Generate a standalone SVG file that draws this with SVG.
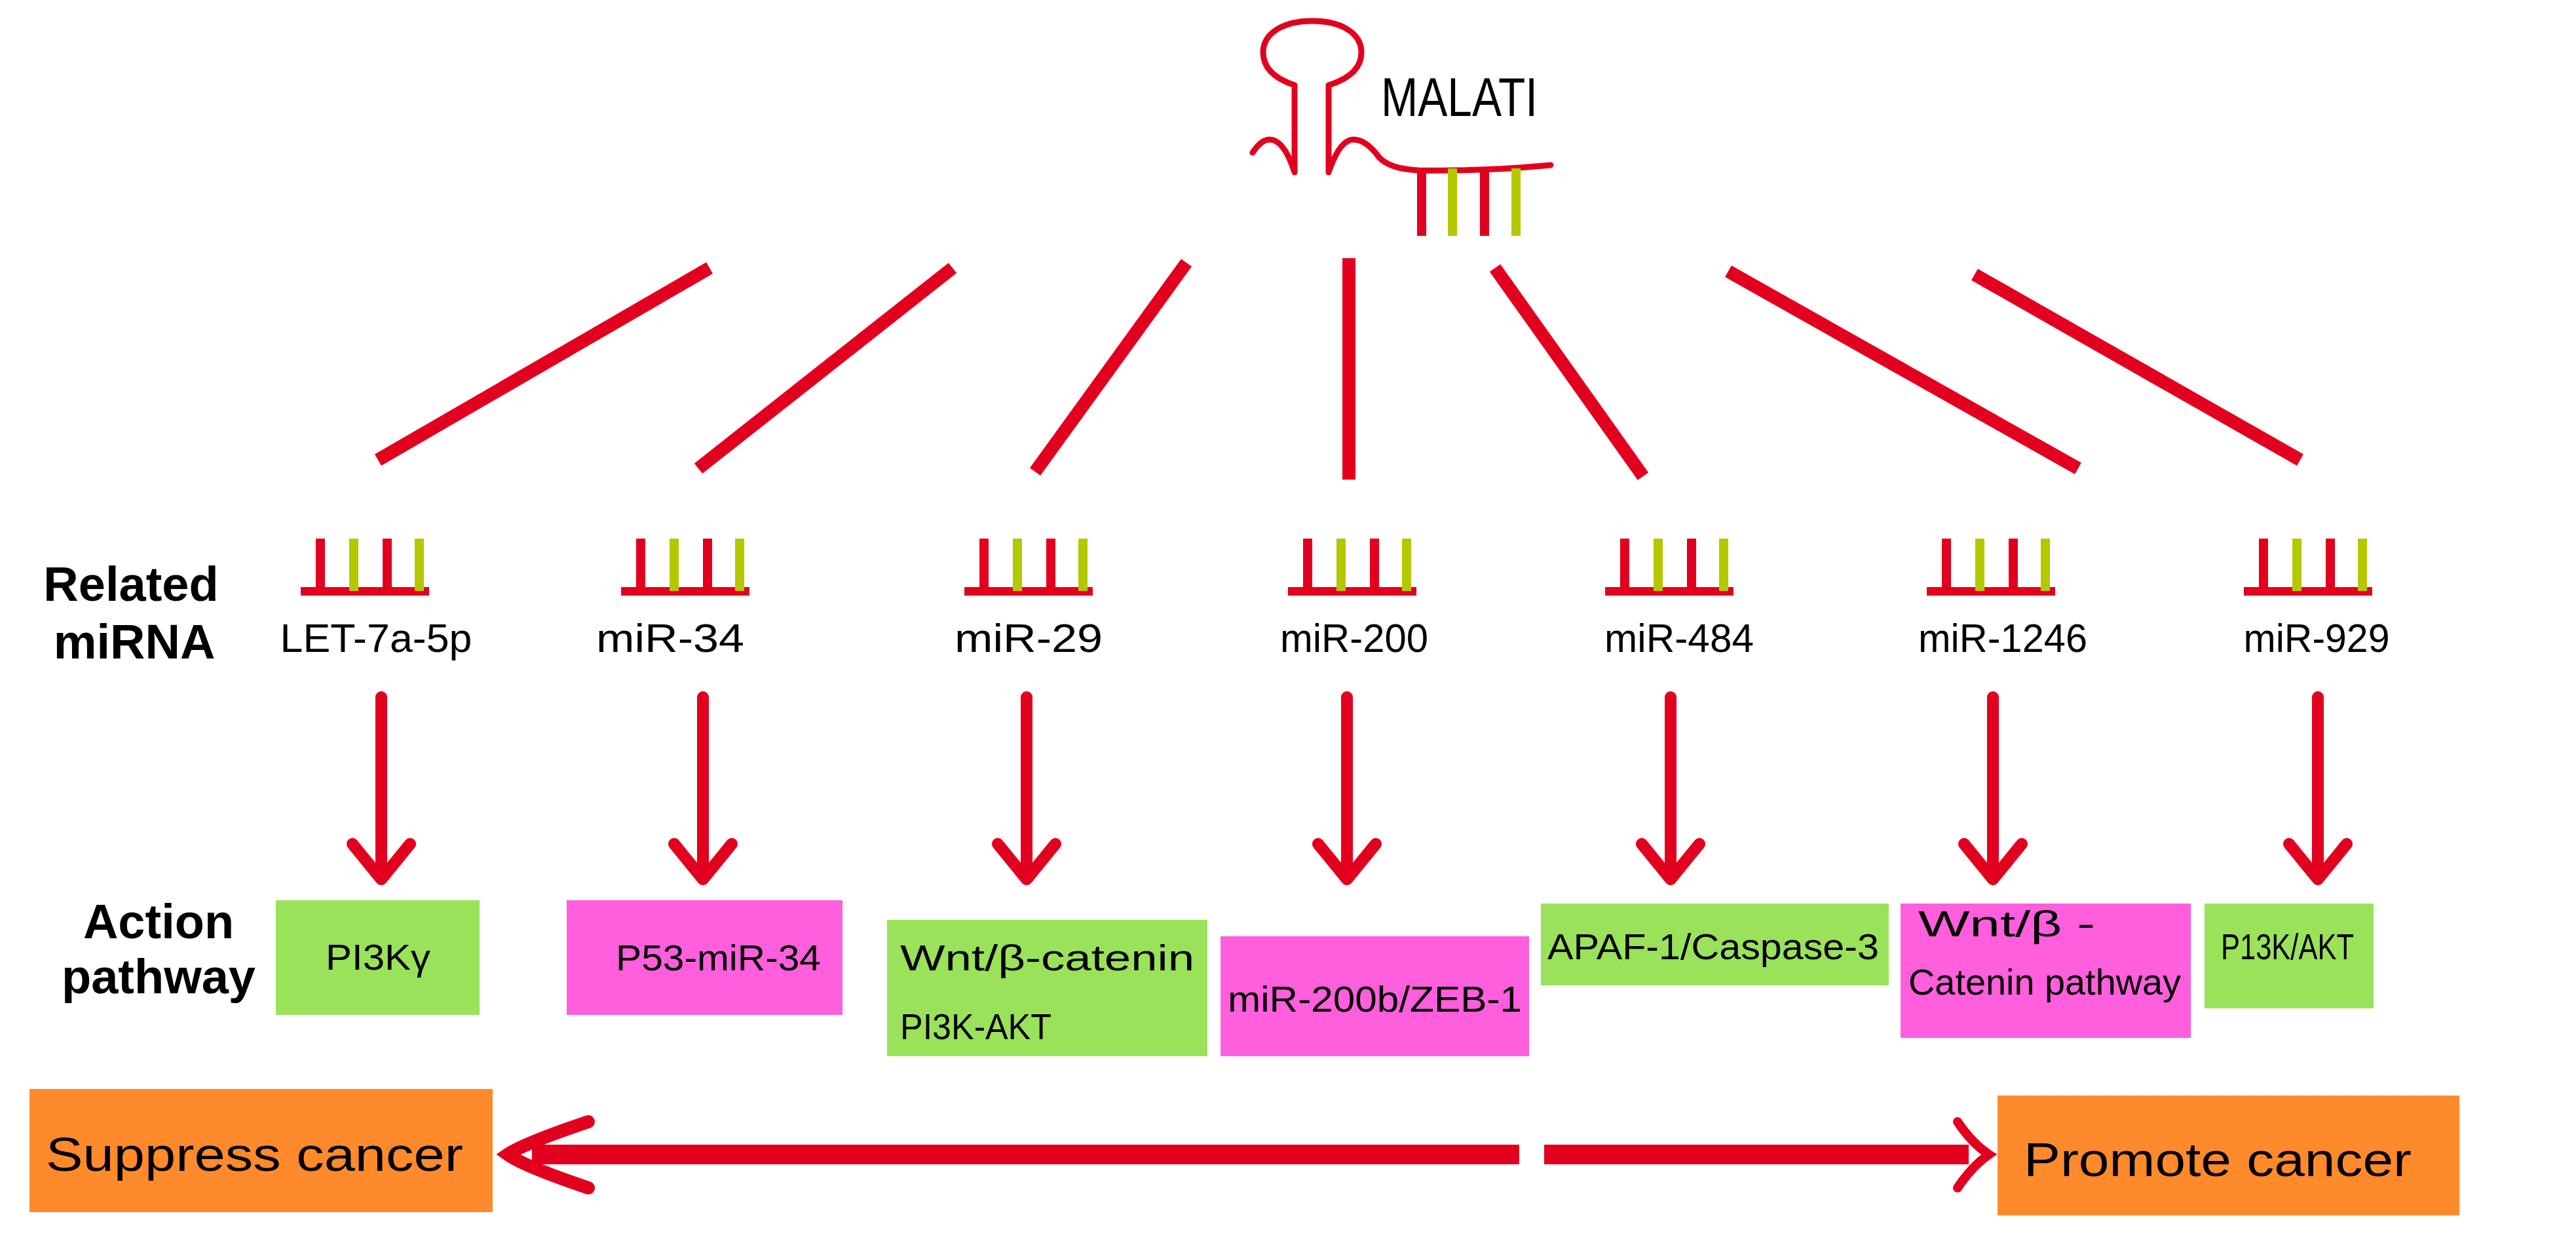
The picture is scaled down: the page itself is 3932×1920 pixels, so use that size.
<svg xmlns="http://www.w3.org/2000/svg" width="3932" height="1920" viewBox="0 0 3932 1920">
<style>
.r{stroke:#E2001E;fill:none}
.t{font-family:"Liberation Sans",Arial,sans-serif;fill:#000}
.lab{font-size:62px}
.bx{font-size:56px}
.hd{font-size:74px;font-weight:bold;text-anchor:middle}
.big{font-size:72px}
</style>
<defs>
<g id="mi">
<rect x="-98" y="896" width="196" height="13" fill="#E2001E"/>
<rect x="-75" y="822" width="14" height="80" fill="#E2001E"/>
<rect x="-24" y="822" width="14" height="80" fill="#B4C800"/>
<rect x="27" y="822" width="14" height="80" fill="#E2001E"/>
<rect x="76" y="822" width="14" height="80" fill="#B4C800"/>
</g>
<g id="ar">
<path d="M0,1064 V1340 M-44,1288 L0,1342 L44,1288" class="r" stroke-width="18" stroke-linecap="round" stroke-linejoin="round"/>
</g>
</defs>
<rect width="3932" height="1920" fill="#fff"/>
<g id="malat1">
<path class="r" stroke-width="9" stroke-linecap="round" stroke-linejoin="round" d="M1912,233 Q1925,213 1938,213 Q1960,213 1976,263 V130 C1940,118 1928,100 1928,80 C1928,50 1960,32 2003,32 C2046,32 2078,50 2078,80 C2078,100 2066,118 2028,130 V263 Q2045,213 2066,213 Q2085,213 2105,240 Q2121,258 2166,260 Q2260,262 2367,252"/>
<rect x="2163" y="257" width="14" height="103" fill="#E2001E"/>
<rect x="2210" y="257" width="14" height="103" fill="#B4C800"/>
<rect x="2259" y="257" width="14" height="103" fill="#E2001E"/>
<rect x="2307" y="257" width="14" height="103" fill="#B4C800"/>
<text class="t" x="2108" y="177" font-size="84" textLength="239" lengthAdjust="spacingAndGlyphs">MALATI</text>
</g>
<g id="connectors" class="r" stroke-width="20">
<line x1="1083" y1="409" x2="577" y2="702"/>
<line x1="1454" y1="409" x2="1066" y2="715"/>
<line x1="1811" y1="401" x2="1580" y2="720"/>
<line x1="2059" y1="394" x2="2059" y2="732"/>
<line x1="2282" y1="409" x2="2508" y2="727"/>
<line x1="2638" y1="414" x2="3172" y2="715"/>
<line x1="3014" y1="419" x2="3511" y2="702"/>
<use href="#ar" x="582"/>
<use href="#ar" x="1073"/>
<use href="#ar" x="1567"/>
<use href="#ar" x="2056"/>
<use href="#ar" x="2550"/>
<use href="#ar" x="3042"/>
<use href="#ar" x="3538"/>
<path d="M812,1762 H2319 M2357,1762 H3005" stroke-width="30"/>
<path d="M898,1712 Q800,1745 775,1762 Q800,1780 898,1813" stroke-width="20" stroke-linecap="round"/>
<path d="M2988,1712 Q3010,1745 3036,1762 Q3010,1780 2988,1813" stroke-width="14" stroke-linecap="round"/>
</g>
<g id="labels">
<text class="t hd" x="200" y="917">Related</text>
<text class="t hd" x="205" y="1005">miRNA</text>
<text class="t hd" x="242" y="1432">Action</text>
<text class="t hd" x="242" y="1516">pathway</text>
</g>
<g id="mirnas">
<use href="#mi" x="557"/>
<use href="#mi" x="1046"/>
<use href="#mi" x="1570"/>
<use href="#mi" x="2064"/>
<use href="#mi" x="2548"/>
<use href="#mi" x="3039"/>
<use href="#mi" x="3523"/>
<g text-anchor="middle" class="t lab">
<text x="574" y="995" textLength="293" lengthAdjust="spacingAndGlyphs">LET-7a-5p</text>
<text x="1023" y="995" textLength="226" lengthAdjust="spacingAndGlyphs">miR-34</text>
<text x="1570" y="995" textLength="226" lengthAdjust="spacingAndGlyphs">miR-29</text>
<text x="2067" y="995" textLength="226" lengthAdjust="spacingAndGlyphs">miR-200</text>
<text x="2563" y="995" textLength="228" lengthAdjust="spacingAndGlyphs">miR-484</text>
<text x="3057" y="995" textLength="258" lengthAdjust="spacingAndGlyphs">miR-1246</text>
<text x="3536" y="995" textLength="223" lengthAdjust="spacingAndGlyphs">miR-929</text>
</g>
</g>
<g id="pathways" class="t bx">
<rect x="421" y="1374" width="311" height="175" fill="#9AE25A"/>
<text x="497" y="1480" textLength="160" lengthAdjust="spacingAndGlyphs">PI3Kγ</text>
<rect x="865" y="1374" width="421" height="175" fill="#FF5EDC"/>
<text x="940" y="1481" textLength="313" lengthAdjust="spacingAndGlyphs">P53-miR-34</text>
<rect x="1354" y="1404" width="489" height="208" fill="#9AE25A"/>
<text x="1374" y="1481" textLength="449" lengthAdjust="spacingAndGlyphs">Wnt/β-catenin</text>
<text x="1374" y="1586" textLength="231" lengthAdjust="spacingAndGlyphs">PI3K-AKT</text>
<rect x="1863" y="1429" width="471" height="183" fill="#FF5EDC"/>
<text x="1874" y="1544" textLength="449" lengthAdjust="spacingAndGlyphs">miR-200b/ZEB-1</text>
<rect x="2352" y="1379" width="531" height="125" fill="#9AE25A"/>
<text x="2362" y="1464" textLength="506" lengthAdjust="spacingAndGlyphs">APAF-1/Caspase-3</text>
<rect x="2901" y="1379" width="443" height="205" fill="#FF5EDC"/>
<text x="2928" y="1429" textLength="270" lengthAdjust="spacingAndGlyphs">Wnt/β -</text>
<text x="2913" y="1518" textLength="416" lengthAdjust="spacingAndGlyphs">Catenin pathway</text>
<rect x="3365" y="1379" width="258" height="160" fill="#9AE25A"/>
<text x="3390" y="1464" textLength="203" lengthAdjust="spacingAndGlyphs">P13K/AKT</text>
</g>
<g id="outcomes" class="t big">
<rect x="45" y="1662" width="707" height="188" fill="#FF8A2C"/>
<text x="70" y="1787" textLength="637" lengthAdjust="spacingAndGlyphs">Suppress cancer</text>
<rect x="3049" y="1672" width="705" height="183" fill="#FF8A2C"/>
<text x="3089" y="1795" textLength="592" lengthAdjust="spacingAndGlyphs">Promote cancer</text>
</g>
</svg>
